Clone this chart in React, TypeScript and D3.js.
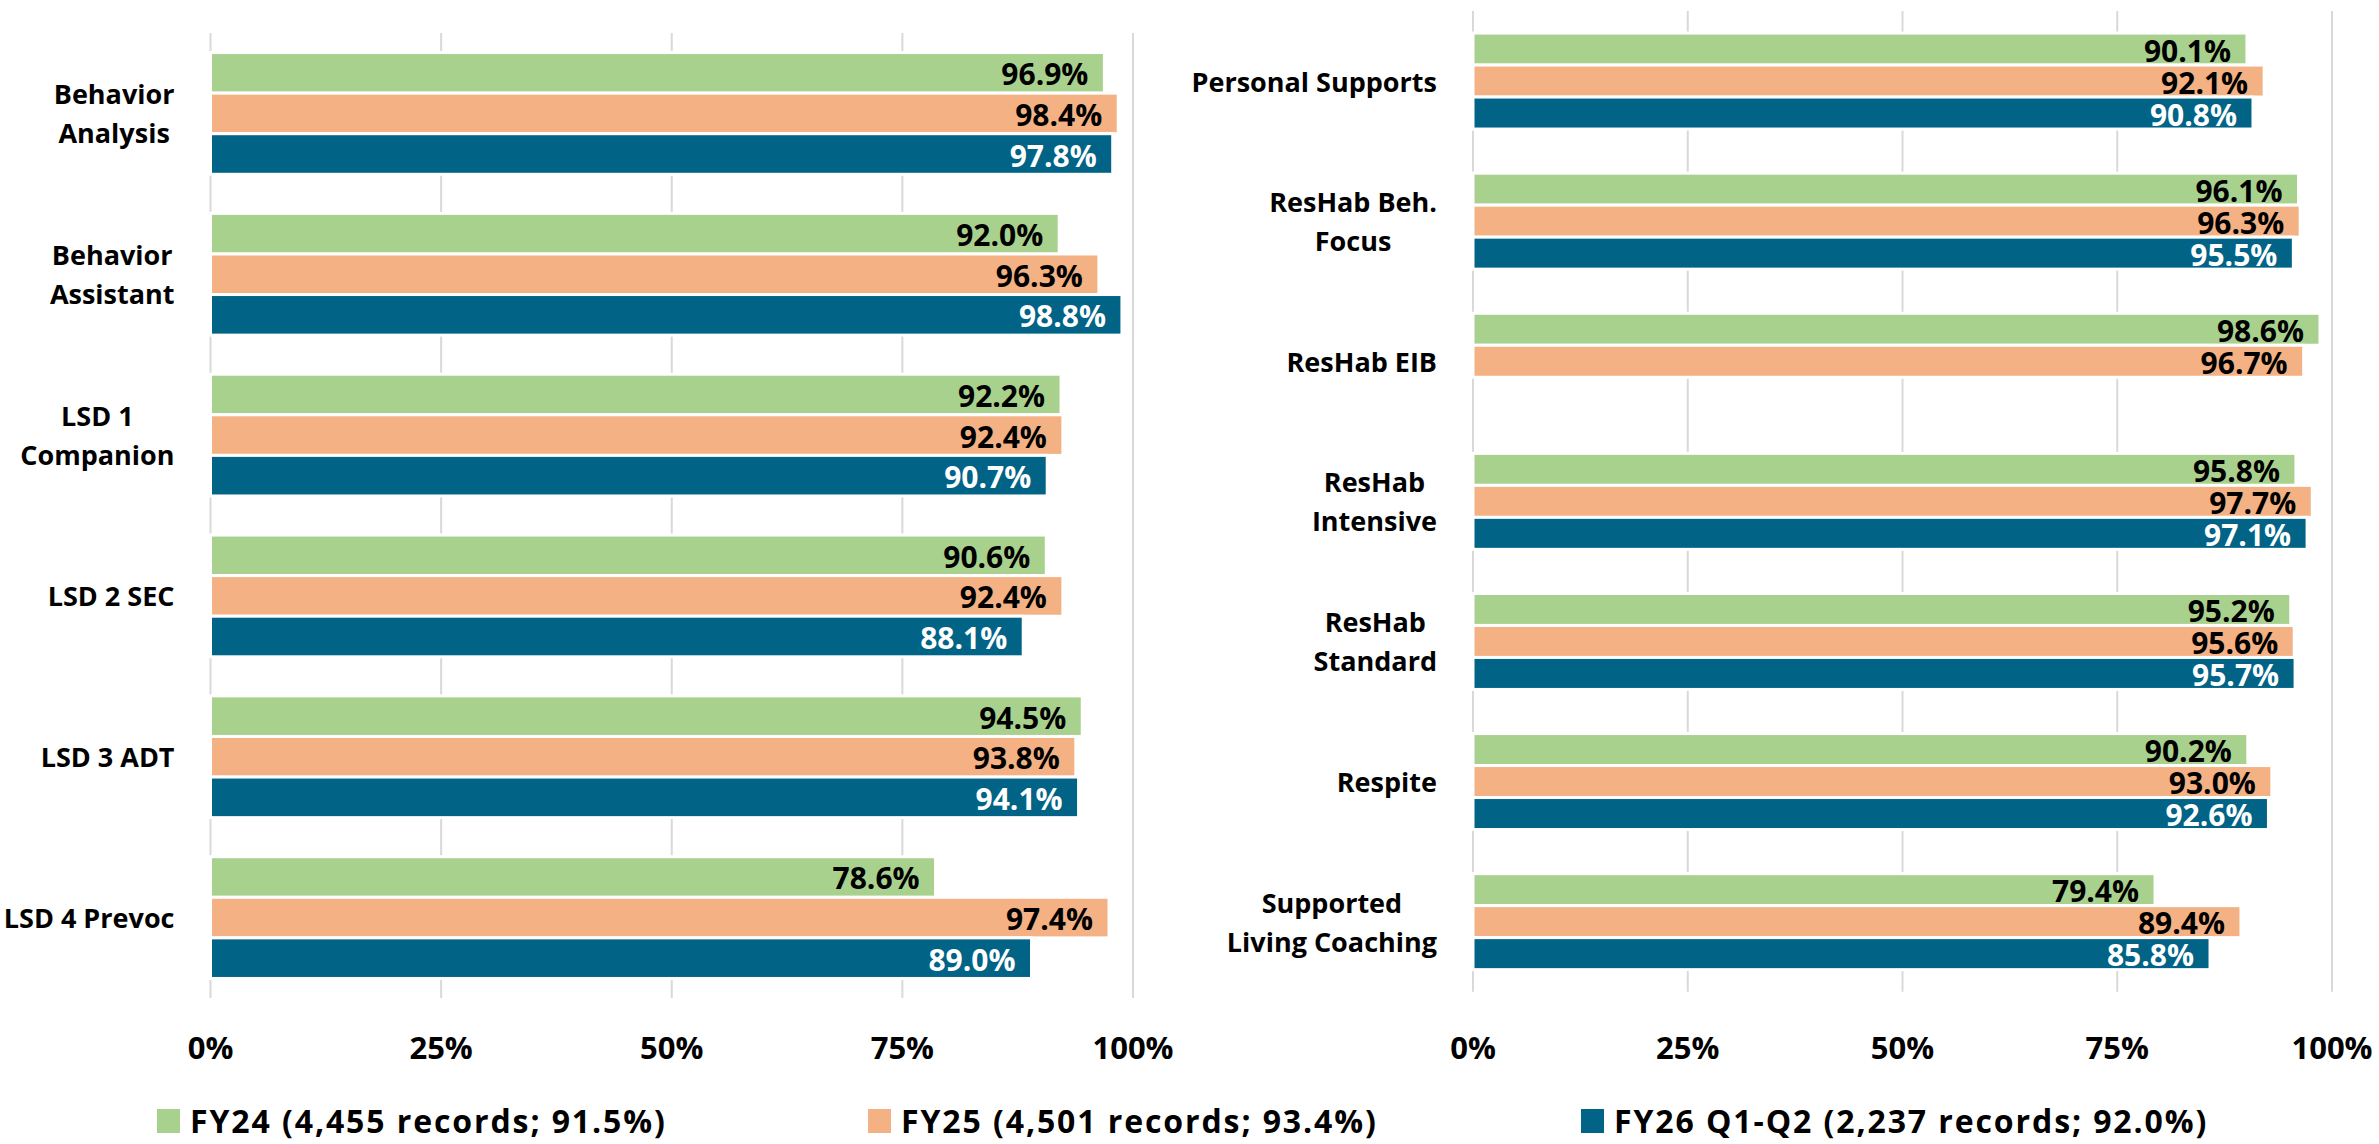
import { useEffect, useRef } from "react"
import * as d3 from "d3"

// categories (line breaks as in the original labels)
const leftCategories = ["Behavior\nAnalysis", "Behavior\nAssistant", "LSD 1\nCompanion", "LSD 2 SEC", "LSD 3 ADT", "LSD 4 Prevoc"]
const rightCategories = ["Personal Supports", "ResHab Beh.\nFocus", "ResHab EIB", "ResHab\nIntensive", "ResHab\nStandard", "Respite", "Supported\nLiving Coaching"]

const leftFY24 = [96.9, 92.0, 92.2, 90.6, 94.5, 78.6]
const leftFY25 = [98.4, 96.3, 92.4, 92.4, 93.8, 97.4]
const leftFY26 = [97.8, 98.8, 90.7, 88.1, 94.1, 89.0]

const rightFY24 = [90.1, 96.1, 98.6, 95.8, 95.2, 90.2, 79.4]
const rightFY25 = [92.1, 96.3, 96.7, 97.7, 95.6, 93.0, 89.4]
const rightFY26 = [90.8, 95.5, null, 97.1, 95.7, 92.6, 85.8]

const seriesKeys = ["FY24", "FY25", "FY26"]
const legendLabels = [
    "FY24 (4,455 records; 91.5%)",
    "FY25 (4,501 records; 93.4%)",
    "FY26 Q1-Q2 (2,237 records; 92.0%)",
]
const xTicks = [0, 25, 50, 75, 100]

const colors = ["#A9D18E", "#F4B183", "#016386"]
const labelColors = ["#000", "#000", "#fff"]
const FONT = "'Open Sans', sans-serif"

type Panel = {
    cats: string[]
    series: (number | null)[][]
    x0: number
    x1: number
    y0: number
    y1: number
    pad: number
}

function drawPanel(svg: any, p: Panel) {
    const x = d3.scaleLinear().domain([0, 100]).range([p.x0, p.x1])
    const y = d3.scaleBand<string>()
        .domain(p.cats)
        .range([p.y0, p.y1])
        .paddingInner(p.pad)
        .paddingOuter(p.pad / 2)
    const ySub = d3.scaleBand<string>()
        .domain(seriesKeys)
        .range([0, y.bandwidth()])

    const g = svg.append("g")

    // gridlines
    g.selectAll("line.grid")
        .data(xTicks)
        .join("line")
        .attr("x1", (d: number) => x(d))
        .attr("x2", (d: number) => x(d))
        .attr("y1", p.y0)
        .attr("y2", p.y1)
        .attr("stroke", "#D9D9D9")
        .attr("stroke-width", 2)

    // tick labels
    g.selectAll("text.tick")
        .data(xTicks)
        .join("text")
        .attr("x", (d: number) => x(d))
        .attr("y", 1047)
        .attr("text-anchor", "middle")
        .attr("dominant-baseline", "central")
        .attr("font-size", 31)
        .attr("font-weight", 700)
        .text((d: number) => `${d}%`)

    const rows = p.cats.flatMap((c, i) =>
        seriesKeys.map((k, si) => ({ cat: c, key: k, si, value: p.series[si][i] }))
    ).filter(d => d.value !== null && d.value !== undefined)

    g.selectAll("rect.bar")
        .data(rows)
        .join("rect")
        .attr("x", x(0))
        .attr("y", (d: any) => (y(d.cat) ?? 0) + (ySub(d.key) ?? 0))
        .attr("width", (d: any) => x(d.value) - x(0))
        .attr("height", ySub.bandwidth())
        .attr("fill", (d: any) => colors[d.si])
        .attr("stroke", "#fff")
        .attr("stroke-width", 3)

    g.selectAll("text.val")
        .data(rows)
        .join("text")
        .attr("x", (d: any) => x(d.value) - 16)
        .attr("y", (d: any) => (y(d.cat) ?? 0) + (ySub(d.key) ?? 0) + ySub.bandwidth() / 2 + 1)
        .attr("text-anchor", "end")
        .attr("dominant-baseline", "central")
        .attr("font-size", 30)
        .attr("font-weight", 700)
        .attr("fill", (d: any) => labelColors[d.si])
        .text((d: any) => `${d.value.toFixed(1)}%`)

    // category labels: block right-aligned to axis, lines centred inside it
    const lineH = 39
    p.cats.forEach(c => {
        const lines = c.split("\n")
        const cy = (y(c) ?? 0) + y.bandwidth() / 2
        const t = g.append("g")
        const texts = lines.map((ln, i) =>
            t.append("text")
                .attr("y", cy + (i - (lines.length - 1) / 2) * lineH)
                .attr("dominant-baseline", "central")
                .attr("text-anchor", "middle")
                .attr("font-size", 27)
                .attr("font-weight", 700)
                .text(ln)
        )
        const widths = texts.map(s => (s.node() as SVGTextElement).getComputedTextLength())
        const maxW = d3.max(widths) ?? 0
        const right = p.x0 - 36
        texts.forEach(s => s.attr("x", right - maxW / 2))
    })
}

export default function App() {
    const ref = useRef<SVGSVGElement>(null)

    useEffect(() => {
        document.body.style.margin = "0"
        const svg = d3.select(ref.current)
        svg.selectAll("*").remove()

        drawPanel(svg, {
            cats: leftCategories,
            series: [leftFY24, leftFY25, leftFY26],
            x0: 210.5, x1: 1133, y0: 33, y1: 998, pad: 0.243,
        })
        drawPanel(svg, {
            cats: rightCategories,
            series: [rightFY24, rightFY25, rightFY26],
            x0: 1473, x1: 2332, y0: 11, y1: 991.7, pad: 0.315,
        })

        // legend
        const legendX = [157, 868, 1581]
        const lg = svg.append("g")
        legendLabels.forEach((lab, i) => {
            lg.append("rect")
                .attr("x", legendX[i])
                .attr("y", 1109)
                .attr("width", 23)
                .attr("height", 24)
                .attr("fill", colors[i])
            lg.append("text")
                .attr("x", legendX[i] + 33)
                .attr("y", 1120)
                .attr("dominant-baseline", "central")
                .attr("font-size", 32)
                .attr("letter-spacing", 1.9)
                .attr("font-weight", 700)
                .text(lab)
        })
    }, [])

    return (
        <svg
            ref={ref}
            width={2379}
            height={1144}
            style={{ display: "block", background: "#fff", fontFamily: FONT }}
        />
    )
}
